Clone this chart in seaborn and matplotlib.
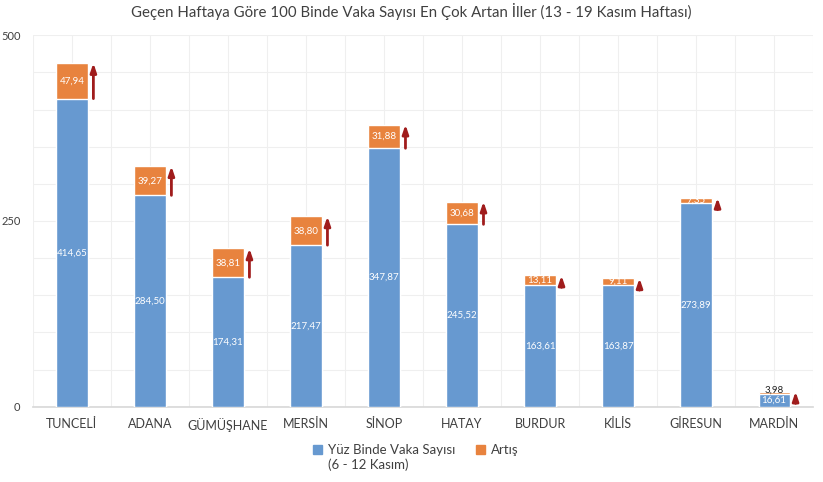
import matplotlib
matplotlib.use("Agg")
import matplotlib.pyplot as plt
import seaborn as sns
import pandas as pd
import numpy as np
from matplotlib.patches import Patch
from matplotlib.ticker import MultipleLocator

provinces = ["TUNCELİ", "ADANA", "GÜMÜŞHANE", "MERSİN", "SİNOP", "HATAY", "BURDUR", "KİLİS", "GİRESUN", "MARDİN"]
base_values = [414.65, 284.50, 174.31, 217.47, 347.87, 245.52, 163.61, 163.87, 273.89, 16.61]
increase_values = [47.94, 39.27, 38.81, 38.80, 31.88, 30.68, 13.11, 9.11, 7.35, 3.98]
base_labels = ["414,65", "284,50", "174,31", "217,47", "347,87", "245,52", "163,61", "163,87", "273,89", "16,61"]
increase_labels = ["47,94", "39,27", "38,81", "38,80", "31,88", "30,68", "13,11", "9,11", "7,35", "3,98"]
y_ticks = [0, 250, 500]

BLUE = "#6799d0"
ORANGE = "#e8833e"
ARROW = "#a01c1c"
TXT = "#404040"

sns.set_theme(style="white")
plt.rcParams["font.family"] = ["Lato", "DejaVu Sans"]

df = pd.DataFrame({
    "il": provinces,
    "base": base_values,
    "inc": increase_values,
})
df["total"] = df["base"] + df["inc"]

fig = plt.figure(figsize=(8.23, 4.82), dpi=100)
ax = fig.add_axes([0.040, 0.156, 0.948, 0.771])

sns.barplot(data=df, x="il", y="total", color=ORANGE, width=0.4, ax=ax,
            saturation=1, zorder=3)
sns.barplot(data=df, x="il", y="base", color=BLUE, width=0.4, ax=ax,
            saturation=1, zorder=3)

ax.set_xlim(-0.5, len(provinces) - 0.5)
ax.set_ylim(0, 500)
ax.set_yticks(y_ticks)
ax.yaxis.set_minor_locator(MultipleLocator(50))
ax.xaxis.set_minor_locator(MultipleLocator(0.5))
ax.grid(which="both", axis="both", color="#efefef", linewidth=0.8, zorder=0)
ax.set_axisbelow(True)
for s in ["top", "right", "left"]:
    ax.spines[s].set_visible(False)
ax.spines["bottom"].set_color("#d9d9d9")
ax.tick_params(axis="both", which="both", length=0)
ax.tick_params(axis="x", labelsize=9, colors=TXT, pad=8)
ax.tick_params(axis="y", labelsize=8, colors=TXT, pad=9)
ax.set_xlabel("")
ax.set_ylabel("")

for i, (b, inc, bl, il) in enumerate(zip(base_values, increase_values, base_labels, increase_labels)):
    ax.text(i, b / 2, bl, ha="center", va="center", color="white", fontsize=7, zorder=5)
    if i == len(provinces) - 1:
        ax.text(i, b + inc + 2, il, ha="center", va="center", color="#222222", fontsize=7, zorder=5)
    else:
        ax.text(i, b + inc / 2, il, ha="center", va="center", color="white", fontsize=7, zorder=5)
    top = b + inc
    start = min(b, top - 16)
    ax.annotate("", xy=(i + 0.275, top), xytext=(i + 0.275, start),
                arrowprops=dict(arrowstyle="-|>,head_length=0.65,head_width=0.22",
                                mutation_scale=8,
                                color=ARROW, lw=2.0, shrinkA=0, shrinkB=0),
                zorder=6)

fig.suptitle("Geçen Haftaya Göre 100 Binde Vaka Sayısı En Çok Artan İller (13 - 19 Kasım Haftası)",
             x=0.5, y=0.993, fontsize=10.8, color=TXT)

handles = [Patch(color=BLUE), Patch(color=ORANGE)]
leg = fig.legend(handles, ["Yüz Binde Vaka Sayısı", "Artış"], ncol=2,
                 loc="upper center", bbox_to_anchor=(0.505, 0.097), frameon=False,
                 fontsize=9.5, handlelength=0.7, handleheight=0.7, handletextpad=0.4,
                 columnspacing=1.6, labelcolor=TXT, borderpad=0.2)
fig.canvas.draw()
t0 = leg.get_texts()[0]
bb = t0.get_window_extent(renderer=fig.canvas.get_renderer())
inv = fig.transFigure.inverted()
x0, y0 = inv.transform((bb.x0, bb.y0))
fig.text(x0, y0 - 0.004, "(6 - 12 Kasım)", ha="left", va="top", fontsize=9.5, color=TXT)

fig.savefig("out.png", dpi=100)
